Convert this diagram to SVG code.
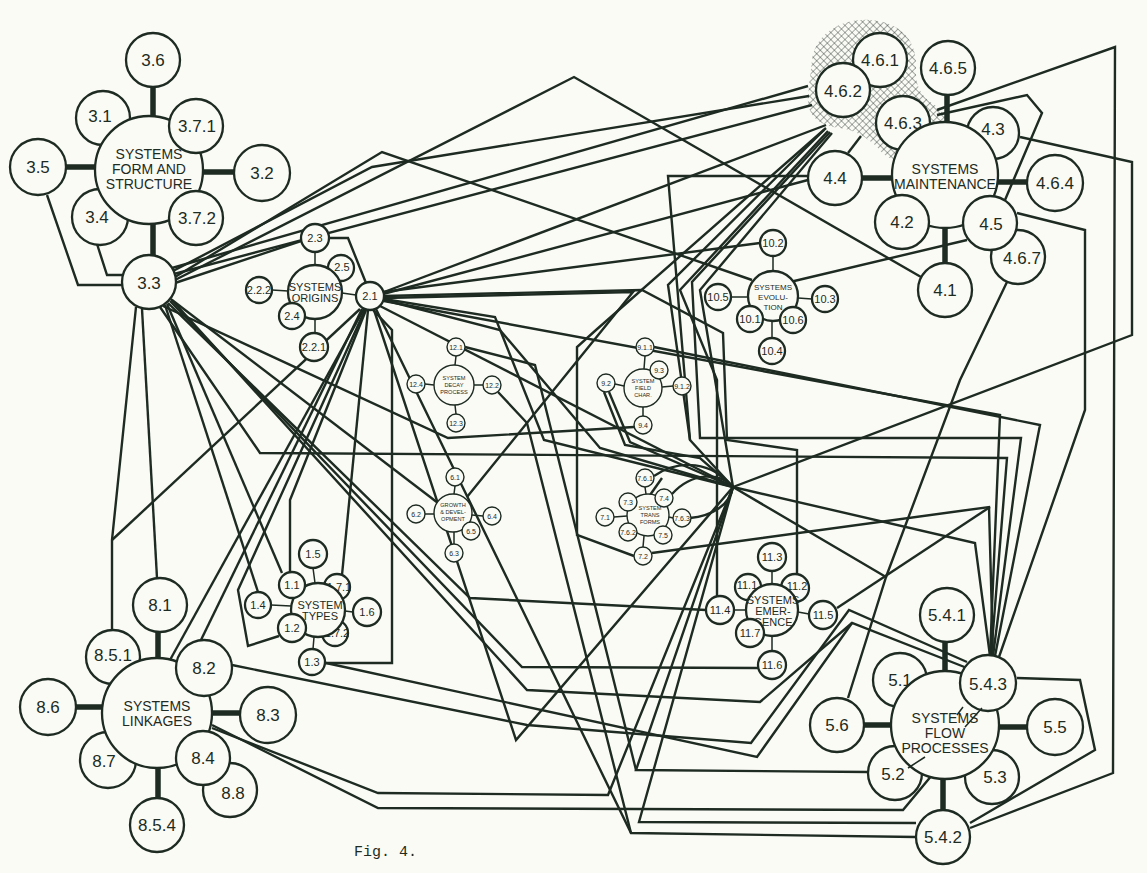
<svg xmlns="http://www.w3.org/2000/svg" width="1147" height="873" viewBox="0 0 1147 873">
<defs>
<style>
.c{fill:#fbfbf6;stroke:#1d2b22;stroke-width:2.3}
.cs{fill:#fbfbf6;stroke:#1d2b22;stroke-width:1.4}
.ln{fill:none;stroke:#1d2b22;stroke-width:2.4;stroke-linejoin:miter}
.th{fill:none;stroke:#1d2b22;stroke-width:1.5}
.bar{fill:none;stroke:#1d2b22;stroke-width:5.5}
.t{font-family:"Liberation Sans",Arial,sans-serif;fill:#1d2b22;text-anchor:middle;dominant-baseline:central}
.L{font-size:17px}
.C{font-size:14px}
.M{font-size:11px}
.S{font-size:7px}
.s{font-size:5.6px}
</style>
<pattern id="hatch" width="5" height="5" patternUnits="userSpaceOnUse" patternTransform="rotate(45)"><path d="M0,0 L0,5 M0,0 L5,0" stroke="#1d2b22" stroke-width="0.8"/></pattern>
<marker id="ar" viewBox="0 0 10 10" refX="9" refY="5" markerWidth="4" markerHeight="4" orient="auto"><path d="M0,0 L10,5 L0,10 z" fill="#1d2b22"/></marker>
</defs>
<rect width="1147" height="873" fill="#fbfbf6"/>
<path d="M812,60 C815,35 840,18 870,20 C900,22 918,40 916,70 C915,90 925,100 940,108 L948,122 C930,125 930,140 918,150 C905,165 888,162 878,148 C868,138 855,130 840,128 C822,126 806,118 808,95 Z" fill="url(#hatch)"/>
<g id="connectors">
<path class="ln" d="M172,268 L808,86"/>
<path class="ln" d="M173,271 L372,167 L809,96"/>
<path class="ln" d="M174,274 L812,105"/>
<path class="ln" d="M175,277 L382,152 L752,280"/>
<path class="ln" d="M175,280 L574,77 L921,277"/>
<path class="ln" d="M175,283 L301,241"/>
<path class="ln" d="M142,309 L157,578"/>
<path class="ln" d="M136,307 L112,540 L112,631"/>
<path class="ln" d="M160,307 L260,453 L1007,458 L991,656"/>
<path class="ln" d="M163,306 L448,438 L634,427"/>
<path class="ln" d="M165,305 L258,592"/>
<path class="ln" d="M167,304 L282,573"/>
<path class="ln" d="M168,303 L470,598 L706,610"/>
<path class="ln" d="M170,301 L522,667 L758,668"/>
<path class="ln" d="M171,299 L527,690 L760,702 L852,623 L967,668"/>
<path class="ln" d="M172,300 L438,503"/>
<path class="ln" d="M383,292 L760,243"/>
<path class="ln" d="M383,294 L808,180"/>
<path class="ln" d="M384,296 L642,290 L723,333 L727,440 L797,450 L797,574"/>
<path class="ln" d="M384,298 L633,292 L467,497"/>
<path class="ln" d="M384,299 L495,317 L544,440 L733,487"/>
<path class="ln" d="M384,300 L500,330 L600,448 L733,487"/>
<path class="ln" d="M384,301 L1000,415 L990,656"/>
<path class="ln" d="M360,309 L112,540"/>
<path class="ln" d="M362,309 L200,642"/>
<path class="ln" d="M364,309 L170,660"/>
<path class="ln" d="M365,310 L238,590 L248,646 L279,636"/>
<path class="ln" d="M366,310 L290,500 L290,572"/>
<path class="ln" d="M368,310 L342,575"/>
<path class="ln" d="M373,310 L392,330 L392,663 L325,663"/>
<path class="ln" d="M374,310 L516,740 L733,487"/>
<path class="ln" d="M376,309 L631,833 L916,837"/>
<path class="ln" d="M380,306 L733,487"/>
<path class="ln" d="M329,238 L348,238 L366,283"/>
<path class="ln" d="M826,125 L384,292"/>
<path class="ln" d="M824,130 L668,285 L690,440 L733,487"/>
<path class="ln" d="M828,131 L680,290 L717,380 L717,596"/>
<path class="ln" d="M830,132 L692,282 L700,438 L1021,438 L993,656"/>
<path class="ln" d="M832,133 L700,290 L733,487"/>
<path class="ln" d="M808,176 L668,176 L690,440"/>
<path class="ln" d="M937,110 L1115,47 L1113,773 L970,828"/>
<path class="ln" d="M937,115 L1027,95 L1042,113 L1005,200"/>
<path class="ln" d="M1020,137 L1132,162 L1132,335 L733,487"/>
<path class="ln" d="M1017,213 L1085,230 L1085,410 L999,657"/>
<path class="ln" d="M967,240 L790,282"/>
<path class="ln" d="M1007,282 L960,380 L886,577"/>
<path class="ln" d="M654,347 L1040,425 L995,656"/>
<path class="ln" d="M1017,678 L1080,680 L1095,750 L970,823"/>
<path class="ln" d="M733,487 L975,543 L990,656"/>
<path class="ln" d="M733,487 L886,577 L848,698"/>
<path class="ln" d="M733,487 L639,822 L916,823"/>
<path class="ln" d="M733,487 L636,770 L868,772"/>
<path class="ln" d="M733,487 L608,795 L378,793 L212,728"/>
<path class="ln" d="M654,476 C680,458 712,462 733,487"/>
<path class="ln" d="M672,494 C692,472 720,472 733,487"/>
<path class="ln" d="M690,518 C712,516 730,505 733,487"/>
<path class="ln" d="M662,478 L643,505" marker-end="url(#ar)"/>
<path class="ln" d="M648,512 L630,527" marker-end="url(#ar)"/>
<path class="ln" d="M652,553 L989,507 L993,656"/>
<path class="ln" d="M634,556 L577,535 L577,347 L596,330 L826,128"/>
<path class="ln" d="M609,392 L630,442 L733,487"/>
<path class="ln" d="M604,392 L625,445 L700,458 L733,487"/>
<path class="ln" d="M465,347 L535,365 L636,770"/>
<path class="ln" d="M498,392 L527,423 L631,833"/>
<path class="ln" d="M232,665 L527,725 L751,743 L849,610 L967,662"/>
<path class="ln" d="M326,663 L757,757 L852,623"/>
<path class="ln" d="M212,725 L378,808 L903,810 L947,757"/>
<path class="ln" d="M837,608 L990,507"/>
<path class="ln" d="M47,195 L78,285 L122,285"/>
<path class="ln" d="M97,244 L107,275 L124,275"/>
<path class="ln" d="M848,153 L861,136"/>
<path class="bar" d="M153,87 L153,117 M66,167 L96,167 M203,172 L235,172 M153,224 L153,256"/>
<path class="bar" d="M947,95 L947,123 M862,178 L893,178 M997,182 L1028,182 M945,227 L945,264"/>
<path class="bar" d="M158,632 L158,659 M76,707 L103,707 M211,713 L241,713 M158,767 L158,799"/>
<path class="bar" d="M945,642 L945,672 M864,725 L892,725 M998,727 L1028,727 M943,778 L943,811"/>
<path class="th" d="M315,252 L315,266 M272,290 L288,291 M315,319 L315,333 M342,293 L356,295"/>
<path class="th" d="M773,256 L773,271 M731,297 L748,297 M798,298 L812,299 M772,322 L772,338"/>
<path class="th" d="M456,356 L455,365 M425,384 L434,385 M474,385 L483,385 M455,405 L456,414"/>
<path class="th" d="M645,356 L644,369 M615,384 L624,386 M662,387 L673,386 M643,407 L643,416"/>
<path class="th" d="M455,486 L454,494 M425,514 L434,514 M472,515 L483,516 M454,532 L454,544"/>
<path class="th" d="M645,487 L646,494 M614,517 L627,516 M669,517 L673,518 M644,536 L643,547"/>
<path class="th" d="M313,568 L315,583 M271,605 L291,606 M345,611 L353,612 M314,637 L313,649"/>
<path class="th" d="M772,571 L772,584 M734,610 L746,610 M798,612 L809,614 M772,636 L772,651"/>
</g>
<g id="n3_6"><circle class="c" cx="153" cy="60" r="27"/><text class="t L" x="153" y="60">3.6</text></g>
<g id="n3_1"><circle class="c" cx="103" cy="118" r="27"/><text class="t L" x="100" y="116">3.1</text></g>
<g id="n3_5"><circle class="c" cx="38" cy="167" r="28"/><text class="t L" x="38" y="167">3.5</text></g>
<g id="n3_2"><circle class="c" cx="262" cy="173" r="28"/><text class="t L" x="262" y="173">3.2</text></g>
<g id="n3_4"><circle class="c" cx="100" cy="217" r="28"/><text class="t L" x="97" y="217">3.4</text></g>
<g id="n3"><circle class="c" cx="149" cy="170" r="54"/><text class="t C" x="149" y="154">SYSTEMS</text><text class="t C" x="149" y="169">FORM AND</text><text class="t C" x="149" y="184">STRUCTURE</text></g>
<g id="n3_7_1"><circle class="c" cx="196" cy="126" r="27"/><text class="t L" x="197" y="126">3.7.1</text></g>
<g id="n3_7_2"><circle class="c" cx="196" cy="218" r="27"/><text class="t L" x="197" y="218">3.7.2</text></g>
<g id="n3_3"><circle class="c" cx="149" cy="282" r="27"/><text class="t L" x="149" y="283">3.3</text></g>
<g id="n4_6_1"><circle class="c" cx="880" cy="60" r="27"/><text class="t L" x="880" y="60">4.6.1</text></g>
<g id="n4_6_2"><circle class="c" cx="843" cy="90" r="27"/><text class="t L" x="843" y="91">4.6.2</text></g>
<g id="n4_6_5"><circle class="c" cx="948" cy="68" r="27"/><text class="t L" x="948" y="68">4.6.5</text></g>
<g id="n4_6_3"><circle class="c" cx="903" cy="123" r="27"/><text class="t L" x="903" y="123">4.6.3</text></g>
<g id="n4_3"><circle class="c" cx="993" cy="133" r="26"/><text class="t L" x="993" y="129">4.3</text></g>
<g id="n4_4"><circle class="c" cx="835" cy="178" r="27"/><text class="t L" x="835" y="178">4.4</text></g>
<g id="n4_6_4"><circle class="c" cx="1055" cy="183" r="28"/><text class="t L" x="1055" y="183">4.6.4</text></g>
<g id="n4"><circle class="c" cx="945" cy="175" r="53"/><text class="t C" x="945" y="169">SYSTEMS</text><text class="t C" x="945" y="184">MAINTENANCE</text></g>
<g id="n4_2"><circle class="c" cx="902" cy="222" r="27"/><text class="t L" x="902" y="222">4.2</text></g>
<g id="n4_6_7"><circle class="c" cx="1018" cy="257" r="27"/><text class="t L" x="1022" y="258">4.6.7</text></g>
<g id="n4_5"><circle class="c" cx="990" cy="223" r="27"/><text class="t L" x="991" y="224">4.5</text></g>
<g id="n4_1"><circle class="c" cx="945" cy="290" r="27"/><text class="t L" x="945" y="290">4.1</text></g>
<g id="n2_3"><circle class="c" cx="315" cy="238" r="14"/><text class="t M" x="315" y="238">2.3</text></g>
<g id="n2_2_2"><circle class="c" cx="259" cy="290" r="13"/><text class="t M" x="259" y="290">2.2.2</text></g>
<g id="n2_2_1"><circle class="c" cx="314" cy="347" r="14"/><text class="t M" x="314" y="347">2.2.1</text></g>
<g id="n2_5"><circle class="c" cx="341" cy="268" r="13"/><text class="t M" x="342" y="267">2.5</text></g>
<g id="n2"><circle class="c" cx="315" cy="292" r="27"/><text class="t M" x="315" y="287">SYSTEMS</text><text class="t M" x="315" y="298">ORIGINS</text></g>
<g id="n2_4"><circle class="c" cx="292" cy="316" r="13"/><text class="t M" x="292" y="316">2.4</text></g>
<g id="n2_1"><circle class="c" cx="370" cy="296" r="14"/><text class="t M" x="370" y="296">2.1</text></g>
<g id="n10_2"><circle class="c" cx="773" cy="243" r="13"/><text class="t M" x="773" y="243">10.2</text></g>
<g id="n10_5"><circle class="c" cx="718" cy="297" r="13"/><text class="t M" x="718" y="297">10.5</text></g>
<g id="n10_3"><circle class="c" cx="825" cy="299" r="13"/><text class="t M" x="825" y="299">10.3</text></g>
<g id="n10_4"><circle class="c" cx="772" cy="351" r="13"/><text class="t M" x="772" y="351">10.4</text></g>
<g id="n10"><circle class="c" cx="773" cy="296" r="25"/><text class="t S" x="773" y="287" style="font-size:8px">SYSTEMS</text><text class="t S" x="773" y="297" style="font-size:8px">EVOLU-</text><text class="t S" x="773" y="307" style="font-size:8px">TION</text></g>
<g id="n10_1"><circle class="c" cx="750" cy="319" r="13"/><text class="t M" x="750" y="319">10.1</text></g>
<g id="n10_6"><circle class="c" cx="793" cy="320" r="13"/><text class="t M" x="793" y="320">10.6</text></g>
<g id="n12"><circle class="cs" cx="454" cy="385" r="20"/><text class="t s" x="454" y="378">SYSTEM</text><text class="t s" x="454" y="385">DECAY</text><text class="t s" x="454" y="392">PROCESS</text></g>
<g id="n12_1"><circle class="cs" cx="456" cy="347" r="9"/><text class="t S" x="456" y="347">12.1</text></g>
<g id="n12_4"><circle class="cs" cx="416" cy="384" r="9"/><text class="t S" x="416" y="384">12.4</text></g>
<g id="n12_2"><circle class="cs" cx="492" cy="385" r="9"/><text class="t S" x="492" y="385">12.2</text></g>
<g id="n12_3"><circle class="cs" cx="456" cy="423" r="9"/><text class="t S" x="456" y="423">12.3</text></g>
<g id="n9"><circle class="cs" cx="643" cy="388" r="19"/><text class="t s" x="643" y="381">SYSTEM</text><text class="t s" x="643" y="388">FIELD</text><text class="t s" x="643" y="395">CHAR.</text></g>
<g id="n9_1_1"><circle class="cs" cx="645" cy="347" r="9"/><text class="t S" x="645" y="347">9.1.1</text></g>
<g id="n9_3"><circle class="cs" cx="659" cy="370" r="9"/><text class="t S" x="659" y="370">9.3</text></g>
<g id="n9_2"><circle class="cs" cx="606" cy="383" r="9"/><text class="t S" x="606" y="383">9.2</text></g>
<g id="n9_1_2"><circle class="cs" cx="682" cy="386" r="9"/><text class="t S" x="682" y="386">9.1.2</text></g>
<g id="n9_4"><circle class="cs" cx="643" cy="425" r="9"/><text class="t S" x="643" y="425">9.4</text></g>
<g id="n6"><circle class="cs" cx="453" cy="513" r="19"/><text class="t s" x="453" y="505">GROWTH</text><text class="t s" x="453" y="512">&amp; DEVEL-</text><text class="t s" x="453" y="519">OPMENT</text></g>
<g id="n6_1"><circle class="cs" cx="455" cy="477" r="9"/><text class="t S" x="455" y="477">6.1</text></g>
<g id="n6_2"><circle class="cs" cx="416" cy="514" r="9"/><text class="t S" x="416" y="514">6.2</text></g>
<g id="n6_4"><circle class="cs" cx="492" cy="516" r="9"/><text class="t S" x="492" y="516">6.4</text></g>
<g id="n6_5"><circle class="cs" cx="471" cy="531" r="9"/><text class="t S" x="471" y="531">6.5</text></g>
<g id="n6_3"><circle class="cs" cx="454" cy="553" r="9"/><text class="t S" x="454" y="553">6.3</text></g>
<g id="n7"><circle class="cs" cx="648" cy="515" r="21"/><text class="t s" x="650" y="508">SYSTEM</text><text class="t s" x="650" y="515">TRANS</text><text class="t s" x="650" y="522">FORMS</text></g>
<g id="n7_6_1"><circle class="cs" cx="645" cy="478" r="9"/><text class="t S" x="645" y="478">7.6.1</text></g>
<g id="n7_3"><circle class="cs" cx="628" cy="502" r="9"/><text class="t S" x="628" y="502">7.3</text></g>
<g id="n7_4"><circle class="cs" cx="664" cy="498" r="9"/><text class="t S" x="664" y="498">7.4</text></g>
<g id="n7_1"><circle class="cs" cx="605" cy="517" r="9"/><text class="t S" x="605" y="517">7.1</text></g>
<g id="n7_6_3"><circle class="cs" cx="682" cy="518" r="9"/><text class="t S" x="682" y="518">7.6.3</text></g>
<g id="n7_6_2"><circle class="cs" cx="628" cy="532" r="9"/><text class="t S" x="628" y="532">7.6.2</text></g>
<g id="n7_5"><circle class="cs" cx="663" cy="535" r="9"/><text class="t S" x="663" y="535">7.5</text></g>
<g id="n7_2"><circle class="cs" cx="643" cy="556" r="9"/><text class="t S" x="643" y="556">7.2</text></g>
<g id="n1_5"><circle class="c" cx="313" cy="554" r="14"/><text class="t M" x="313" y="554">1.5</text></g>
<g id="n1_4"><circle class="c" cx="258" cy="605" r="13"/><text class="t M" x="258" y="605">1.4</text></g>
<g id="n1_6"><circle class="c" cx="367" cy="612" r="14"/><text class="t M" x="367" y="612">1.6</text></g>
<g id="n1_3"><circle class="c" cx="312" cy="662" r="13"/><text class="t M" x="312" y="662">1.3</text></g>
<g id="n1_7_1"><circle class="c" cx="337" cy="587" r="13"/><text class="t M" x="339" y="587">1.7.1</text></g>
<g id="n1_7_2"><circle class="c" cx="335" cy="633" r="13"/><text class="t M" x="337" y="633">1.7.2</text></g>
<g id="n1"><circle class="c" cx="318" cy="610" r="27"/><text class="t M" x="320" y="605">SYSTEM</text><text class="t M" x="320" y="616">TYPES</text></g>
<g id="n1_1"><circle class="c" cx="292" cy="585" r="13"/><text class="t M" x="292" y="585">1.1</text></g>
<g id="n1_2"><circle class="c" cx="292" cy="628" r="14"/><text class="t M" x="292" y="628">1.2</text></g>
<g id="n11_3"><circle class="c" cx="772" cy="557" r="14"/><text class="t M" x="772" y="557">11.3</text></g>
<g id="n11_4"><circle class="c" cx="720" cy="610" r="14"/><text class="t M" x="720" y="610">11.4</text></g>
<g id="n11_5"><circle class="c" cx="823" cy="615" r="14"/><text class="t M" x="823" y="615">11.5</text></g>
<g id="n11_6"><circle class="c" cx="772" cy="665" r="14"/><text class="t M" x="772" y="665">11.6</text></g>
<g id="n11_1"><circle class="c" cx="748" cy="587" r="13"/><text class="t M" x="747" y="585">11.1</text></g>
<g id="n11_2"><circle class="c" cx="795" cy="588" r="14"/><text class="t M" x="797" y="586">11.2</text></g>
<g id="n11"><circle class="c" cx="772" cy="610" r="26"/><text class="t M" x="773" y="600">SYSTEMS</text><text class="t M" x="773" y="611">EMER-</text><text class="t M" x="773" y="622">GENCE</text></g>
<g id="n11_7"><circle class="c" cx="750" cy="633" r="14"/><text class="t M" x="750" y="633">11.7</text></g>
<g id="n8_1"><circle class="c" cx="160" cy="605" r="27"/><text class="t L" x="160" y="605">8.1</text></g>
<g id="n8_5_1"><circle class="c" cx="113" cy="657" r="27"/><text class="t L" x="113" y="655">8.5.1</text></g>
<g id="n8_6"><circle class="c" cx="48" cy="707" r="28"/><text class="t L" x="48" y="707">8.6</text></g>
<g id="n8_3"><circle class="c" cx="268" cy="715" r="28"/><text class="t L" x="268" y="715">8.3</text></g>
<g id="n8_7"><circle class="c" cx="108" cy="760" r="28"/><text class="t L" x="104" y="761">8.7</text></g>
<g id="n8_5_4"><circle class="c" cx="157" cy="825" r="27"/><text class="t L" x="157" y="825">8.5.4</text></g>
<g id="n8_8"><circle class="c" cx="230" cy="790" r="27"/><text class="t L" x="233" y="793">8.8</text></g>
<g id="n8"><circle class="c" cx="157" cy="713" r="55"/><text class="t C" x="157" y="706">SYSTEMS</text><text class="t C" x="157" y="721">LINKAGES</text></g>
<g id="n8_2"><circle class="c" cx="204" cy="668" r="28"/><text class="t L" x="204" y="668">8.2</text></g>
<g id="n8_4"><circle class="c" cx="203" cy="758" r="27"/><text class="t L" x="203" y="758">8.4</text></g>
<g id="n5_4_1"><circle class="c" cx="947" cy="615" r="27"/><text class="t L" x="947" y="615">5.4.1</text></g>
<g id="n5_6"><circle class="c" cx="837" cy="725" r="27"/><text class="t L" x="837" y="725">5.6</text></g>
<g id="n5_5"><circle class="c" cx="1055" cy="727" r="28"/><text class="t L" x="1055" y="727">5.5</text></g>
<g id="n5_4_2"><circle class="c" cx="943" cy="837" r="27"/><text class="t L" x="943" y="837">5.4.2</text></g>
<g id="n5_1"><circle class="c" cx="900" cy="680" r="27"/><text class="t L" x="900" y="680">5.1</text></g>
<g id="n5_2"><circle class="c" cx="895" cy="773" r="27"/><text class="t L" x="893" y="774">5.2</text></g>
<g id="n5_3"><circle class="c" cx="992" cy="777" r="27"/><text class="t L" x="995" y="777">5.3</text></g>
<g id="n5"><circle class="c" cx="945" cy="725" r="54"/><text class="t C" x="945" y="718">SYSTEMS</text><text class="t C" x="945" y="733">FLOW</text><text class="t C" x="945" y="748">PROCESSES</text></g>
<g id="n5_4_3"><circle class="c" cx="988" cy="683" r="28"/><text class="t L" x="988" y="684">5.4.3</text></g>
<path class="th" d="M908,768 L925,757 M963,707 L957,715 M982,708 L965,727"/>
<text x="354" y="856" style="font-family:'Liberation Mono','Courier New',monospace;font-size:15px;fill:#1d2b22">Fig. 4.</text>
</svg>
